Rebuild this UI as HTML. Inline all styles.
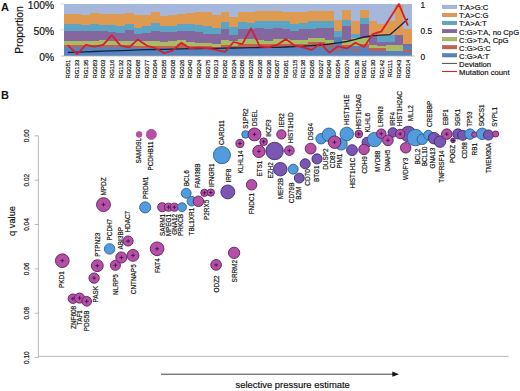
<!DOCTYPE html>
<html><head><meta charset="utf-8"><title>Figure</title>
<style>html,body{margin:0;padding:0;background:#fff;}body{width:520px;height:391px;overflow:hidden;font-family:"Liberation Sans", sans-serif;}svg{display:block;}</style>
</head><body>
<svg width="520" height="391" viewBox="0 0 520 391" font-family='"Liberation Sans", sans-serif'>
<rect width="520" height="391" fill="#fff"/>
<g shape-rendering="crispEdges">
<rect x="64.0" y="4.0" width="348.0" height="51.7" fill="#A5B8DB"/>
<polygon points="64.0,13.5 72.7,13.5 72.7,14.2 81.4,14.2 81.4,14.6 90.1,14.6 90.1,12.7 98.8,12.7 98.8,13.5 107.5,13.5 107.5,14.2 116.2,14.2 116.2,13.5 124.9,13.5 124.9,12.7 133.6,12.7 133.6,15.2 142.3,15.2 142.3,14.9 151.0,14.9 151.0,12.3 159.7,12.3 159.7,15.6 168.4,15.6 168.4,15.2 177.1,15.2 177.1,13.5 185.8,13.5 185.8,12.7 194.5,12.7 194.5,12.0 203.2,12.0 203.2,12.0 211.9,12.0 211.9,15.2 220.6,15.2 220.6,12.0 229.3,12.0 229.3,17.0 238.0,17.0 238.0,12.0 246.7,12.0 246.7,12.3 255.4,12.3 255.4,10.9 264.1,10.9 264.1,11.3 272.8,11.3 272.8,10.9 281.5,10.9 281.5,12.0 290.2,12.0 290.2,12.0 298.9,12.0 298.9,12.3 307.6,12.3 307.6,10.9 316.3,10.9 316.3,11.3 325.0,11.3 325.0,10.6 333.7,10.6 333.7,19.5 342.4,19.5 342.4,10.2 351.1,10.2 351.1,20.7 359.8,20.7 359.8,10.2 368.5,10.2 368.5,20.6 377.2,20.6 377.2,23.5 385.9,23.5 385.9,20.9 394.6,20.9 394.6,5.2 403.3,5.2 403.3,29.0 412.0,29.0 412.0,55.7 64.0,55.7" fill="#DD9A50"/>
<polygon points="64.0,23.5 72.7,23.5 72.7,23.8 81.4,23.8 81.4,24.6 90.1,24.6 90.1,24.2 98.8,24.2 98.8,24.9 107.5,24.9 107.5,24.9 116.2,24.9 116.2,25.6 124.9,25.6 124.9,23.5 133.6,23.5 133.6,27.8 142.3,27.8 142.3,25.6 151.0,25.6 151.0,22.8 159.7,22.8 159.7,25.6 168.4,25.6 168.4,25.6 177.1,25.6 177.1,24.2 185.8,24.2 185.8,24.2 194.5,24.2 194.5,24.9 203.2,24.9 203.2,25.6 211.9,25.6 211.9,27.8 220.6,27.8 220.6,22.1 229.3,22.1 229.3,27.1 238.0,27.1 238.0,22.1 246.7,22.1 246.7,22.8 255.4,22.8 255.4,20.6 264.1,20.6 264.1,21.3 272.8,21.3 272.8,21.3 281.5,21.3 281.5,21.3 290.2,21.3 290.2,24.2 298.9,24.2 298.9,22.8 307.6,22.8 307.6,20.6 316.3,20.6 316.3,20.6 325.0,20.6 325.0,20.6 333.7,20.6 333.7,30.5 342.4,30.5 342.4,20.3 351.1,20.3 351.1,34.0 359.8,34.0 359.8,18.3 368.5,18.3 368.5,35.7 377.2,35.7 377.2,35.7 385.9,35.7 385.9,35.2 394.6,35.2 394.6,35.2 403.3,35.2 403.3,44.0 412.0,44.0 412.0,55.7 64.0,55.7" fill="#5CA4C4"/>
<polygon points="64.0,30.7 72.7,30.7 72.7,30.7 81.4,30.7 81.4,31.4 90.1,31.4 90.1,31.4 98.8,31.4 98.8,30.7 107.5,30.7 107.5,32.1 116.2,32.1 116.2,32.8 124.9,32.8 124.9,29.9 133.6,29.9 133.6,33.5 142.3,33.5 142.3,32.8 151.0,32.8 151.0,30.7 159.7,30.7 159.7,32.1 168.4,32.1 168.4,32.4 177.1,32.4 177.1,31.4 185.8,31.4 185.8,31.4 194.5,31.4 194.5,32.1 203.2,32.1 203.2,34.2 211.9,34.2 211.9,34.2 220.6,34.2 220.6,29.2 229.3,29.2 229.3,35.0 238.0,35.0 238.0,28.5 246.7,28.5 246.7,28.5 255.4,28.5 255.4,27.8 264.1,27.8 264.1,28.5 272.8,28.5 272.8,27.8 281.5,27.8 281.5,28.5 290.2,28.5 290.2,30.7 298.9,30.7 298.9,29.2 307.6,29.2 307.6,28.5 316.3,28.5 316.3,27.8 325.0,27.8 325.0,27.8 333.7,27.8 333.7,36.9 342.4,36.9 342.4,26.1 351.1,26.1 351.1,37.7 359.8,37.7 359.8,23.7 368.5,23.7 368.5,35.7 377.2,35.7 377.2,42.3 385.9,42.3 385.9,42.0 394.6,42.0 394.6,35.2 403.3,35.2 403.3,44.0 412.0,44.0 412.0,55.7 64.0,55.7" fill="#84679F"/>
<polygon points="64.0,40.7 72.7,40.7 72.7,41.4 81.4,41.4 81.4,41.4 90.1,41.4 90.1,41.0 98.8,41.0 98.8,40.4 107.5,40.4 107.5,40.7 116.2,40.7 116.2,41.4 124.9,41.4 124.9,40.7 133.6,40.7 133.6,41.4 142.3,41.4 142.3,40.7 151.0,40.7 151.0,40.7 159.7,40.7 159.7,42.1 168.4,42.1 168.4,41.4 177.1,41.4 177.1,39.5 185.8,39.5 185.8,42.1 194.5,42.1 194.5,42.8 203.2,42.8 203.2,42.8 211.9,42.8 211.9,44.3 220.6,44.3 220.6,40.0 229.3,40.0 229.3,41.4 238.0,41.4 238.0,39.2 246.7,39.2 246.7,38.5 255.4,38.5 255.4,40.0 264.1,40.0 264.1,40.7 272.8,40.7 272.8,38.5 281.5,38.5 281.5,39.2 290.2,39.2 290.2,40.0 298.9,40.0 298.9,40.0 307.6,40.0 307.6,37.8 316.3,37.8 316.3,37.5 325.0,37.5 325.0,39.5 333.7,39.5 333.7,36.9 342.4,36.9 342.4,40.4 351.1,40.4 351.1,37.7 359.8,37.7 359.8,37.5 368.5,37.5 368.5,45.2 377.2,45.2 377.2,45.8 385.9,45.8 385.9,45.2 394.6,45.2 394.6,45.2 403.3,45.2 403.3,46.3 412.0,46.3 412.0,55.7 64.0,55.7" fill="#AABA62"/>
<polygon points="64.0,45.0 72.7,45.0 72.7,45.0 81.4,45.0 81.4,45.0 90.1,45.0 90.1,45.0 98.8,45.0 98.8,45.0 107.5,45.0 107.5,45.0 116.2,45.0 116.2,45.0 124.9,45.0 124.9,45.0 133.6,45.0 133.6,45.7 142.3,45.7 142.3,45.7 151.0,45.7 151.0,45.7 159.7,45.7 159.7,45.7 168.4,45.7 168.4,45.7 177.1,45.7 177.1,44.3 185.8,44.3 185.8,45.7 194.5,45.7 194.5,45.7 203.2,45.7 203.2,46.4 211.9,46.4 211.9,47.1 220.6,47.1 220.6,45.0 229.3,45.0 229.3,45.7 238.0,45.7 238.0,44.3 246.7,44.3 246.7,43.5 255.4,43.5 255.4,44.3 264.1,44.3 264.1,44.3 272.8,44.3 272.8,43.5 281.5,43.5 281.5,43.5 290.2,43.5 290.2,43.5 298.9,43.5 298.9,43.5 307.6,43.5 307.6,42.1 316.3,42.1 316.3,42.1 325.0,42.1 325.0,43.5 333.7,43.5 333.7,36.9 342.4,36.9 342.4,44.8 351.1,44.8 351.1,46.0 359.8,46.0 359.8,43.6 368.5,43.6 368.5,48.1 377.2,48.1 377.2,48.3 385.9,48.3 385.9,51.0 394.6,51.0 394.6,51.0 403.3,51.0 403.3,46.3 412.0,46.3 412.0,55.7 64.0,55.7" fill="#C4604F"/>
<polygon points="64.0,47.1 72.7,47.1 72.7,47.1 81.4,47.1 81.4,47.1 90.1,47.1 90.1,47.1 98.8,47.1 98.8,47.1 107.5,47.1 107.5,47.1 116.2,47.1 116.2,47.1 124.9,47.1 124.9,47.1 133.6,47.1 133.6,47.8 142.3,47.8 142.3,47.8 151.0,47.8 151.0,47.8 159.7,47.8 159.7,47.8 168.4,47.8 168.4,47.8 177.1,47.8 177.1,47.8 185.8,47.8 185.8,47.8 194.5,47.8 194.5,47.8 203.2,47.8 203.2,48.6 211.9,48.6 211.9,48.6 220.6,48.6 220.6,48.2 229.3,48.2 229.3,48.2 238.0,48.2 238.0,47.8 246.7,47.8 246.7,47.8 255.4,47.8 255.4,47.8 264.1,47.8 264.1,47.8 272.8,47.8 272.8,47.1 281.5,47.1 281.5,47.1 290.2,47.1 290.2,47.1 298.9,47.1 298.9,47.1 307.6,47.1 307.6,47.1 316.3,47.1 316.3,47.1 325.0,47.1 325.0,47.1 333.7,47.1 333.7,36.9 342.4,36.9 342.4,47.5 351.1,47.5 351.1,46.0 359.8,46.0 359.8,47.2 368.5,47.2 368.5,51.0 377.2,51.0 377.2,51.0 385.9,51.0 385.9,51.0 394.6,51.0 394.6,51.0 403.3,51.0 403.3,46.3 412.0,46.3 412.0,55.7 64.0,55.7" fill="#5683BD"/>
<rect x="333.7" y="49.2" width="8.7" height="1.4" fill="#C4604F"/>
<rect x="351.1" y="49" width="8.7" height="2.4" fill="#C4604F"/>
<rect x="403.3" y="49.8" width="8.7" height="2.0" fill="#C4604F"/>
</g>
<line x1="61.0" y1="56.0" x2="415.0" y2="56.0" stroke="#b0b0b0" stroke-width="0.8"/>
<line x1="60.5" y1="3.9" x2="64.0" y2="3.9" stroke="#c4c4c4" stroke-width="0.7"/>
<line x1="60.5" y1="29.8" x2="64.0" y2="29.8" stroke="#c4c4c4" stroke-width="0.7"/>
<polyline points="68.3,52.3 77.0,52.1 85.8,51.8 94.4,51.5 103.2,51.2 111.8,50.9 120.5,50.6 129.2,50.3 137.9,49.9 146.6,49.7 155.3,49.5 164.1,49.3 172.8,49.1 181.4,48.9 190.1,48.7 198.8,48.5 207.5,48.4 216.2,48.3 224.9,48.1 233.6,48.0 242.3,47.8 251.0,47.7 259.8,47.5 268.4,47.4 277.1,47.3 285.9,47.0 294.5,46.6 303.2,46.2 311.9,45.6 320.6,45.0 329.3,44.0 338.0,42.8 346.8,41.5 355.4,39.4 364.1,37.0 372.8,35.6 381.5,35.1 390.2,34.6 398.9,27.0 407.6,19.1" fill="none" stroke="#1a2038" stroke-width="1.3" stroke-linejoin="round" stroke-linecap="round"/>
<polyline points="68.3,45.6 77.0,54.1 85.8,44.9 94.4,46.6 103.2,44.9 111.8,35.1 120.5,45.6 129.2,47.4 137.9,39.4 146.6,45.6 155.3,48.0 164.1,53.1 172.8,50.6 181.4,42.7 190.1,48.4 198.8,47.7 207.5,48.4 216.2,49.9 224.9,52.0 233.6,42.0 242.3,44.1 251.0,28.4 259.8,46.3 268.4,47.4 277.1,44.9 285.9,38.9 294.5,45.6 303.2,47.4 311.9,49.9 320.6,43.4 329.3,52.7 338.0,46.3 346.8,48.4 355.4,42.7 364.1,47.0 372.8,34.1 381.5,31.3 390.2,17.7 398.9,4.1 407.6,24.9" fill="none" stroke="#d4202c" stroke-width="1.8" stroke-linejoin="round" stroke-linecap="round"/>
<text x="54.2" y="9.0" font-size="10.3" text-anchor="end" fill="#111" stroke="#111" stroke-width="0.18">100%</text>
<text x="54.2" y="34.8" font-size="10.3" text-anchor="end" fill="#111" stroke="#111" stroke-width="0.18">50%</text>
<text x="54.2" y="61.0" font-size="10.3" text-anchor="end" fill="#111" stroke="#111" stroke-width="0.18">0%</text>
<text transform="translate(23.3,30) rotate(-90)" font-size="10.3" text-anchor="middle" fill="#111" stroke="#111" stroke-width="0.18">Proportion</text>
<text x="1" y="11" font-size="11" font-weight="bold" fill="#111">A</text>
<text x="1" y="99" font-size="11" font-weight="bold" fill="#111">B</text>
<text x="420.6" y="7.8" font-size="8.3" fill="#111" stroke="#111" stroke-width="0.18">1</text>
<text x="420.6" y="33.8" font-size="8.3" fill="#111" stroke="#111" stroke-width="0.18">0.5</text>
<text x="420.6" y="59.6" font-size="8.3" fill="#111" stroke="#111" stroke-width="0.18">0</text>
<text transform="translate(70.4,59.8) rotate(-90)" font-size="5.9" text-anchor="end" fill="#111" stroke="#111" stroke-width="0.18">RG051</text>
<text transform="translate(79.1,59.8) rotate(-90)" font-size="5.9" text-anchor="end" fill="#111" stroke="#111" stroke-width="0.18">RG133</text>
<text transform="translate(87.8,59.8) rotate(-90)" font-size="5.9" text-anchor="end" fill="#111" stroke="#111" stroke-width="0.18">RG135</text>
<text transform="translate(96.5,59.8) rotate(-90)" font-size="5.9" text-anchor="end" fill="#111" stroke="#111" stroke-width="0.18">RG083</text>
<text transform="translate(105.2,59.8) rotate(-90)" font-size="5.9" text-anchor="end" fill="#111" stroke="#111" stroke-width="0.18">RG003</text>
<text transform="translate(113.9,59.8) rotate(-90)" font-size="5.9" text-anchor="end" fill="#111" stroke="#111" stroke-width="0.18">RG116</text>
<text transform="translate(122.6,59.8) rotate(-90)" font-size="5.9" text-anchor="end" fill="#111" stroke="#111" stroke-width="0.18">RG132</text>
<text transform="translate(131.3,59.8) rotate(-90)" font-size="5.9" text-anchor="end" fill="#111" stroke="#111" stroke-width="0.18">RG023</text>
<text transform="translate(140.0,59.8) rotate(-90)" font-size="5.9" text-anchor="end" fill="#111" stroke="#111" stroke-width="0.18">RG068</text>
<text transform="translate(148.7,59.8) rotate(-90)" font-size="5.9" text-anchor="end" fill="#111" stroke="#111" stroke-width="0.18">RG077</text>
<text transform="translate(157.4,59.8) rotate(-90)" font-size="5.9" text-anchor="end" fill="#111" stroke="#111" stroke-width="0.18">RG064</text>
<text transform="translate(166.2,59.8) rotate(-90)" font-size="5.9" text-anchor="end" fill="#111" stroke="#111" stroke-width="0.18">RG055</text>
<text transform="translate(174.8,59.8) rotate(-90)" font-size="5.9" text-anchor="end" fill="#111" stroke="#111" stroke-width="0.18">RG008</text>
<text transform="translate(183.5,59.8) rotate(-90)" font-size="5.9" text-anchor="end" fill="#111" stroke="#111" stroke-width="0.18">RG026</text>
<text transform="translate(192.2,59.8) rotate(-90)" font-size="5.9" text-anchor="end" fill="#111" stroke="#111" stroke-width="0.18">RG040</text>
<text transform="translate(200.9,59.8) rotate(-90)" font-size="5.9" text-anchor="end" fill="#111" stroke="#111" stroke-width="0.18">RG024</text>
<text transform="translate(209.6,59.8) rotate(-90)" font-size="5.9" text-anchor="end" fill="#111" stroke="#111" stroke-width="0.18">RG075</text>
<text transform="translate(218.3,59.8) rotate(-90)" font-size="5.9" text-anchor="end" fill="#111" stroke="#111" stroke-width="0.18">RG013</text>
<text transform="translate(227.0,59.8) rotate(-90)" font-size="5.9" text-anchor="end" fill="#111" stroke="#111" stroke-width="0.18">RG082</text>
<text transform="translate(235.7,59.8) rotate(-90)" font-size="5.9" text-anchor="end" fill="#111" stroke="#111" stroke-width="0.18">RG034</text>
<text transform="translate(244.4,59.8) rotate(-90)" font-size="5.9" text-anchor="end" fill="#111" stroke="#111" stroke-width="0.18">RG086</text>
<text transform="translate(253.1,59.8) rotate(-90)" font-size="5.9" text-anchor="end" fill="#111" stroke="#111" stroke-width="0.18">RG028</text>
<text transform="translate(261.9,59.8) rotate(-90)" font-size="5.9" text-anchor="end" fill="#111" stroke="#111" stroke-width="0.18">RG038</text>
<text transform="translate(270.6,59.8) rotate(-90)" font-size="5.9" text-anchor="end" fill="#111" stroke="#111" stroke-width="0.18">RG036</text>
<text transform="translate(279.2,59.8) rotate(-90)" font-size="5.9" text-anchor="end" fill="#111" stroke="#111" stroke-width="0.18">RG067</text>
<text transform="translate(288.0,59.8) rotate(-90)" font-size="5.9" text-anchor="end" fill="#111" stroke="#111" stroke-width="0.18">RG081</text>
<text transform="translate(296.6,59.8) rotate(-90)" font-size="5.9" text-anchor="end" fill="#111" stroke="#111" stroke-width="0.18">RG115</text>
<text transform="translate(305.4,59.8) rotate(-90)" font-size="5.9" text-anchor="end" fill="#111" stroke="#111" stroke-width="0.18">RG138</text>
<text transform="translate(314.1,59.8) rotate(-90)" font-size="5.9" text-anchor="end" fill="#111" stroke="#111" stroke-width="0.18">RG065</text>
<text transform="translate(322.8,59.8) rotate(-90)" font-size="5.9" text-anchor="end" fill="#111" stroke="#111" stroke-width="0.18">RG027</text>
<text transform="translate(331.4,59.8) rotate(-90)" font-size="5.9" text-anchor="end" fill="#111" stroke="#111" stroke-width="0.18">RG049</text>
<text transform="translate(340.1,59.8) rotate(-90)" font-size="5.9" text-anchor="end" fill="#111" stroke="#111" stroke-width="0.18">RG054</text>
<text transform="translate(348.9,59.8) rotate(-90)" font-size="5.9" text-anchor="end" fill="#111" stroke="#111" stroke-width="0.18">RG074</text>
<text transform="translate(359.4,59.8) rotate(-90)" font-size="5.9" text-anchor="end" fill="#111" stroke="#111" stroke-width="0.18">RG136</text>
<text transform="translate(366.2,59.8) rotate(-90)" font-size="5.9" text-anchor="end" fill="#111" stroke="#111" stroke-width="0.18">RG061</text>
<text transform="translate(374.9,59.8) rotate(-90)" font-size="5.9" text-anchor="end" fill="#111" stroke="#111" stroke-width="0.18">RG130</text>
<text transform="translate(383.6,59.8) rotate(-90)" font-size="5.9" text-anchor="end" fill="#111" stroke="#111" stroke-width="0.18">RG142</text>
<text transform="translate(392.4,59.8) rotate(-90)" font-size="5.9" text-anchor="end" fill="#111" stroke="#111" stroke-width="0.18">RG111</text>
<text transform="translate(401.1,59.8) rotate(-90)" font-size="5.9" text-anchor="end" fill="#111" stroke="#111" stroke-width="0.18">RG043</text>
<text transform="translate(409.8,59.8) rotate(-90)" font-size="5.9" text-anchor="end" fill="#111" stroke="#111" stroke-width="0.18">RG014</text>
<rect x="442.5" y="5.2" width="14.3" height="3.4" fill="#A5B8DB" stroke="#8796b3" stroke-width="0.5"/>
<text x="459.1" y="10.2" font-size="7.7" fill="#111" stroke="#111" stroke-width="0.18">T:A&gt;G:C</text>
<rect x="442.5" y="13.3" width="14.3" height="3.4" fill="#DD9A50" stroke="#b57e41" stroke-width="0.5"/>
<text x="459.1" y="18.3" font-size="7.7" fill="#111" stroke="#111" stroke-width="0.18">T:A&gt;C:G</text>
<rect x="442.5" y="21.3" width="14.3" height="3.4" fill="#5CA4C4" stroke="#4b86a0" stroke-width="0.5"/>
<text x="459.1" y="26.4" font-size="7.7" fill="#111" stroke="#111" stroke-width="0.18">T:A&gt;A:T</text>
<rect x="442.5" y="29.4" width="14.3" height="3.4" fill="#84679F" stroke="#6c5482" stroke-width="0.5"/>
<text x="459.1" y="34.5" font-size="7.7" fill="#111" stroke="#111" stroke-width="0.18">C:G&gt;T:A, no CpG</text>
<rect x="442.5" y="37.5" width="14.3" height="3.4" fill="#AABA62" stroke="#8b9850" stroke-width="0.5"/>
<text x="459.1" y="42.5" font-size="7.7" fill="#111" stroke="#111" stroke-width="0.18">C:G&gt;T:A, CpG</text>
<rect x="442.5" y="45.5" width="14.3" height="3.4" fill="#C4604F" stroke="#a04e40" stroke-width="0.5"/>
<text x="459.1" y="50.6" font-size="7.7" fill="#111" stroke="#111" stroke-width="0.18">C:G&gt;G:C</text>
<rect x="442.5" y="53.6" width="14.3" height="3.4" fill="#5683BD" stroke="#466b9a" stroke-width="0.5"/>
<text x="459.1" y="58.7" font-size="7.7" fill="#111" stroke="#111" stroke-width="0.18">C:G&gt;A:T</text>
<line x1="442" y1="63.4" x2="457" y2="63.4" stroke="#3a3038" stroke-width="0.9"/>
<text x="459.1" y="66.7" font-size="7.7" fill="#111" stroke="#111" stroke-width="0.18">Deviation</text>
<line x1="442" y1="71.5" x2="457" y2="71.5" stroke="#d6202c" stroke-width="1.1"/>
<text x="459.1" y="74.8" font-size="7.7" fill="#111" stroke="#111" stroke-width="0.18">Mutation count</text>
<g stroke="#969696" stroke-width="0.65" fill="none">
<line x1="38.4" y1="135.8" x2="38.4" y2="357.6"/>
<line x1="34.6" y1="135.8" x2="38.4" y2="135.8"/>
<line x1="34.6" y1="180.2" x2="38.4" y2="180.2"/>
<line x1="34.6" y1="224.5" x2="38.4" y2="224.5"/>
<line x1="34.6" y1="268.9" x2="38.4" y2="268.9"/>
<line x1="34.6" y1="313.2" x2="38.4" y2="313.2"/>
<line x1="34.6" y1="357.6" x2="38.4" y2="357.6"/>
<line x1="38.4" y1="356.4" x2="508.7" y2="356.4"/>
</g>
<text transform="translate(28.6,135.8) rotate(-90)" font-size="6.5" text-anchor="middle" fill="#111" stroke="#111" stroke-width="0.18">0.00</text>
<text transform="translate(28.6,180.2) rotate(-90)" font-size="6.5" text-anchor="middle" fill="#111" stroke="#111" stroke-width="0.18">0.02</text>
<text transform="translate(28.6,224.5) rotate(-90)" font-size="6.5" text-anchor="middle" fill="#111" stroke="#111" stroke-width="0.18">0.04</text>
<text transform="translate(28.6,268.9) rotate(-90)" font-size="6.5" text-anchor="middle" fill="#111" stroke="#111" stroke-width="0.18">0.06</text>
<text transform="translate(28.6,313.2) rotate(-90)" font-size="6.5" text-anchor="middle" fill="#111" stroke="#111" stroke-width="0.18">0.08</text>
<text transform="translate(28.6,357.6) rotate(-90)" font-size="6.5" text-anchor="middle" fill="#111" stroke="#111" stroke-width="0.18">0.10</text>
<text transform="translate(15,221) rotate(-90)" font-size="9.3" text-anchor="middle" fill="#111" stroke="#111" stroke-width="0.18">q value</text>
<line x1="161" y1="374.2" x2="394" y2="374.2" stroke="#111" stroke-width="0.8"/>
<polygon points="392.3,371.6 399,374.2 392.3,376.8" fill="#111"/>
<text x="292.7" y="388" font-size="9.45" text-anchor="middle" fill="#111" stroke="#111" stroke-width="0.18">selective pressure estimate</text>
<g>
<circle cx="62.3" cy="260.7" r="6.85" fill="#B650A5" stroke="#5a2060" stroke-width="0.9"/>
<path d="M60.4 260.7H64.2M62.3 258.8V262.6" stroke="#3a0e55" stroke-width="0.85" fill="none"/>
<circle cx="72.9" cy="298.7" r="4.75" fill="#B650A5" stroke="#5a2060" stroke-width="0.9"/>
<path d="M71.0 298.7H74.8M72.9 296.8V300.6" stroke="#3a0e55" stroke-width="0.85" fill="none"/>
<circle cx="79.6" cy="298.1" r="5.05" fill="#B650A5" stroke="#5a2060" stroke-width="0.9"/>
<path d="M77.7 298.1H81.5M79.6 296.2V300.0" stroke="#3a0e55" stroke-width="0.85" fill="none"/>
<circle cx="86.7" cy="301.3" r="4.85" fill="#B650A5" stroke="#5a2060" stroke-width="0.9"/>
<path d="M84.8 301.3H88.6M86.7 299.4V303.2" stroke="#3a0e55" stroke-width="0.85" fill="none"/>
<circle cx="94.1" cy="278.1" r="5.15" fill="#B650A5" stroke="#5a2060" stroke-width="0.9"/>
<path d="M92.2 278.1H96.0M94.1 276.2V280.0" stroke="#3a0e55" stroke-width="0.85" fill="none"/>
<circle cx="97.3" cy="265.7" r="5.95" fill="#B650A5" stroke="#5a2060" stroke-width="0.9"/>
<path d="M95.4 265.7H99.2M97.3 263.8V267.6" stroke="#3a0e55" stroke-width="0.85" fill="none"/>
<circle cx="103.5" cy="204.6" r="6.95" fill="#B650A5" stroke="#5a2060" stroke-width="0.9"/>
<path d="M101.6 204.6H105.4M103.5 202.7V206.5" stroke="#3a0e55" stroke-width="0.85" fill="none"/>
<circle cx="109.6" cy="248.9" r="5.25" fill="#529BDD" stroke="#2c6196" stroke-width="0.9"/>
<circle cx="115.4" cy="265.3" r="5.05" fill="#B650A5" stroke="#5a2060" stroke-width="0.9"/>
<path d="M113.5 265.3H117.3M115.4 263.4V267.2" stroke="#3a0e55" stroke-width="0.85" fill="none"/>
<circle cx="121.3" cy="257.5" r="5.55" fill="#B650A5" stroke="#5a2060" stroke-width="0.9"/>
<path d="M119.4 257.5H123.2M121.3 255.6V259.4" stroke="#3a0e55" stroke-width="0.85" fill="none"/>
<circle cx="128.1" cy="241.0" r="5.05" fill="#B650A5" stroke="#5a2060" stroke-width="0.9"/>
<path d="M126.2 241.0H130.0M128.1 239.1V242.9" stroke="#3a0e55" stroke-width="0.85" fill="none"/>
<circle cx="133" cy="255.4" r="5.95" fill="#B650A5" stroke="#5a2060" stroke-width="0.9"/>
<path d="M131.1 255.4H134.9M133 253.5V257.3" stroke="#3a0e55" stroke-width="0.85" fill="none"/>
<circle cx="139.1" cy="134.4" r="2.85" fill="#B650A5" stroke="#B650A5" stroke-width="0.9"/>
<circle cx="145.2" cy="207.4" r="5.55" fill="#529BDD" stroke="#2c6196" stroke-width="0.9"/>
<circle cx="151.3" cy="134.4" r="5.05" fill="#B650A5" stroke="#B650A5" stroke-width="0.9"/>
<circle cx="157.1" cy="248.8" r="6.85" fill="#B650A5" stroke="#5a2060" stroke-width="0.9"/>
<path d="M155.2 248.8H159.0M157.1 246.9V250.7" stroke="#3a0e55" stroke-width="0.85" fill="none"/>
<circle cx="162.2" cy="207.2" r="4.55" fill="#B650A5" stroke="#5a2060" stroke-width="0.9"/>
<circle cx="168.5" cy="207.2" r="4.05" fill="#B650A5" stroke="#5a2060" stroke-width="0.9"/>
<path d="M166.6 207.2H170.4M168.5 205.3V209.1" stroke="#3a0e55" stroke-width="0.85" fill="none"/>
<circle cx="174.4" cy="207.2" r="4.05" fill="#B650A5" stroke="#5a2060" stroke-width="0.9"/>
<path d="M172.5 207.2H176.3M174.4 205.3V209.1" stroke="#3a0e55" stroke-width="0.85" fill="none"/>
<circle cx="182.0" cy="207.2" r="4.45" fill="#529BDD" stroke="#2c6196" stroke-width="0.9"/>
<circle cx="186.2" cy="193.3" r="4.95" fill="#529BDD" stroke="#2c6196" stroke-width="0.9"/>
<circle cx="191.8" cy="201.2" r="4.75" fill="#529BDD" stroke="#2c6196" stroke-width="0.9"/>
<circle cx="198.4" cy="201.3" r="5.25" fill="#B650A5" stroke="#5a2060" stroke-width="0.9"/>
<circle cx="204.4" cy="192.8" r="3.65" fill="#B650A5" stroke="#5a2060" stroke-width="0.9"/>
<path d="M202.5 192.8H206.3M204.4 190.9V194.7" stroke="#3a0e55" stroke-width="0.85" fill="none"/>
<circle cx="210.8" cy="192.6" r="3.65" fill="#B650A5" stroke="#5a2060" stroke-width="0.9"/>
<path d="M208.9 192.6H212.7M210.8 190.7V194.5" stroke="#3a0e55" stroke-width="0.85" fill="none"/>
<circle cx="216.1" cy="264.9" r="5.35" fill="#B650A5" stroke="#5a2060" stroke-width="0.9"/>
<path d="M214.2 264.9H218.0M216.1 263.0V266.8" stroke="#3a0e55" stroke-width="0.85" fill="none"/>
<circle cx="221.9" cy="155.1" r="8.55" fill="#529BDD" stroke="#2c6196" stroke-width="0.9"/>
<circle cx="227.8" cy="191.9" r="6.95" fill="#7A57B0" stroke="#3f2a78" stroke-width="0.9"/>
<circle cx="234.1" cy="252.8" r="5.65" fill="#B650A5" stroke="#5a2060" stroke-width="0.9"/>
<circle cx="239.9" cy="143.5" r="4.05" fill="#B650A5" stroke="#5a2060" stroke-width="0.9"/>
<path d="M238.0 143.5H241.8M239.9 141.6V145.4" stroke="#3a0e55" stroke-width="0.85" fill="none"/>
<circle cx="245.5" cy="134.4" r="3.75" fill="#529BDD" stroke="#2c6196" stroke-width="0.9"/>
<circle cx="251.6" cy="184.8" r="5.25" fill="#B650A5" stroke="#5a2060" stroke-width="0.9"/>
<circle cx="254.5" cy="134.4" r="6.45" fill="#B650A5" stroke="#5a2060" stroke-width="0.9"/>
<path d="M252.6 134.4H256.4M254.5 132.5V136.3" stroke="#3a0e55" stroke-width="0.85" fill="none"/>
<circle cx="258.9" cy="151.4" r="6.15" fill="#B650A5" stroke="#5a2060" stroke-width="0.9"/>
<path d="M257.0 151.4H260.8M258.9 149.5V153.3" stroke="#3a0e55" stroke-width="0.85" fill="none"/>
<circle cx="263.6" cy="141.7" r="3.85" fill="#B650A5" stroke="#5a2060" stroke-width="0.9"/>
<path d="M261.7 141.7H265.5M263.6 139.8V143.6" stroke="#3a0e55" stroke-width="0.85" fill="none"/>
<circle cx="274.6" cy="151.0" r="8.75" fill="#7A57B0" stroke="#3f2a78" stroke-width="0.9"/>
<circle cx="280.3" cy="169.2" r="6.75" fill="#7A57B0" stroke="#3f2a78" stroke-width="0.9"/>
<circle cx="281.4" cy="134.4" r="4.65" fill="#B650A5" stroke="#5a2060" stroke-width="0.9"/>
<circle cx="289.4" cy="150.6" r="4.85" fill="#B650A5" stroke="#5a2060" stroke-width="0.9"/>
<path d="M287.5 150.6H291.3M289.4 148.7V152.5" stroke="#3a0e55" stroke-width="0.85" fill="none"/>
<circle cx="293.2" cy="169.2" r="4.95" fill="#529BDD" stroke="#2c6196" stroke-width="0.9"/>
<circle cx="299.3" cy="178.1" r="4.95" fill="#7A57B0" stroke="#3f2a78" stroke-width="0.9"/>
<circle cx="305.2" cy="163.8" r="5.05" fill="#7A57B0" stroke="#3f2a78" stroke-width="0.9"/>
<circle cx="310.6" cy="148.6" r="5.45" fill="#B650A5" stroke="#5a2060" stroke-width="0.9"/>
<circle cx="317.0" cy="158.9" r="5.05" fill="#7A57B0" stroke="#3f2a78" stroke-width="0.9"/>
<circle cx="321.1" cy="138.7" r="5.25" fill="#529BDD" stroke="#2c6196" stroke-width="0.9"/>
<circle cx="328.9" cy="134.8" r="6.75" fill="#529BDD" stroke="#2c6196" stroke-width="0.9"/>
<circle cx="341.2" cy="144.0" r="6.05" fill="#529BDD" stroke="#2c6196" stroke-width="0.9"/>
<circle cx="334.6" cy="142.2" r="6.25" fill="#B650A5" stroke="#5a2060" stroke-width="0.9"/>
<path d="M332.7 142.2H336.5M334.6 140.3V144.1" stroke="#3a0e55" stroke-width="0.85" fill="none"/>
<circle cx="346.8" cy="133.9" r="6.75" fill="#529BDD" stroke="#2c6196" stroke-width="0.9"/>
<circle cx="352.0" cy="150.1" r="5.45" fill="#7A57B0" stroke="#3f2a78" stroke-width="0.9"/>
<circle cx="358.8" cy="134" r="3.85" fill="#B650A5" stroke="#5a2060" stroke-width="0.9"/>
<path d="M356.9 134H360.7M358.8 132.1V135.9" stroke="#3a0e55" stroke-width="0.85" fill="none"/>
<circle cx="367.0" cy="142.3" r="4.95" fill="#7A57B0" stroke="#3f2a78" stroke-width="0.9"/>
<circle cx="364.0" cy="149.4" r="5.25" fill="#B650A5" stroke="#5a2060" stroke-width="0.9"/>
<circle cx="374.5" cy="139.6" r="7.15" fill="#529BDD" stroke="#2c6196" stroke-width="0.9"/>
<circle cx="381.3" cy="133.7" r="4.75" fill="#B650A5" stroke="#5a2060" stroke-width="0.9"/>
<path d="M379.4 133.7H383.2M381.3 131.8V135.6" stroke="#3a0e55" stroke-width="0.85" fill="none"/>
<circle cx="392.8" cy="132.4" r="4.75" fill="#7A57B0" stroke="#3f2a78" stroke-width="0.9"/>
<circle cx="387.9" cy="140.3" r="5.35" fill="#B650A5" stroke="#5a2060" stroke-width="0.9"/>
<path d="M386.0 140.3H389.8M387.9 138.4V142.2" stroke="#3a0e55" stroke-width="0.85" fill="none"/>
<circle cx="408.4" cy="134.1" r="7.75" fill="#7A57B0" stroke="#3f2a78" stroke-width="0.9"/>
<circle cx="400.2" cy="134.0" r="4.75" fill="#B650A5" stroke="#5a2060" stroke-width="0.9"/>
<path d="M398.3 134.0H402.1M400.2 132.1V135.9" stroke="#3a0e55" stroke-width="0.85" fill="none"/>
<circle cx="405.7" cy="147.8" r="5.25" fill="#B650A5" stroke="#5a2060" stroke-width="0.9"/>
<circle cx="415.4" cy="137.6" r="8.25" fill="#529BDD" stroke="#2c6196" stroke-width="0.9"/>
<circle cx="422.3" cy="139.3" r="5.25" fill="#529BDD" stroke="#2c6196" stroke-width="0.9"/>
<circle cx="428.4" cy="135" r="4.75" fill="#529BDD" stroke="#2c6196" stroke-width="0.9"/>
<circle cx="434" cy="138.2" r="5.75" fill="#7A57B0" stroke="#3f2a78" stroke-width="0.9"/>
<circle cx="440" cy="141.6" r="5.75" fill="#7A57B0" stroke="#3f2a78" stroke-width="0.9"/>
<circle cx="446.8" cy="134.1" r="5.25" fill="#B650A5" stroke="#5a2060" stroke-width="0.9"/>
<path d="M444.9 134.1H448.7M446.8 132.2V136.0" stroke="#3a0e55" stroke-width="0.85" fill="none"/>
<circle cx="453.0" cy="140.4" r="2.35" fill="#B650A5" stroke="#5a2060" stroke-width="0.9"/>
<path d="M451.1 140.4H454.9M453.0 138.5V142.3" stroke="#3a0e55" stroke-width="0.85" fill="none"/>
<circle cx="457.8" cy="133.9" r="5.05" fill="#7A57B0" stroke="#3f2a78" stroke-width="0.9"/>
<circle cx="462.7" cy="135.3" r="5.05" fill="#7A57B0" stroke="#3f2a78" stroke-width="0.9"/>
<circle cx="470.0" cy="134.1" r="5.25" fill="#529BDD" stroke="#2c6196" stroke-width="0.9"/>
<circle cx="474.4" cy="134.6" r="2.75" fill="#B650A5" stroke="#5a2060" stroke-width="0.9"/>
<circle cx="482.2" cy="133.8" r="5.75" fill="#529BDD" stroke="#2c6196" stroke-width="0.9"/>
<circle cx="488.5" cy="135" r="5.05" fill="#7A57B0" stroke="#3f2a78" stroke-width="0.9"/>
<circle cx="495.7" cy="134.0" r="3.05" fill="#B650A5" stroke="#5a2060" stroke-width="0.9"/>
</g>
<g font-size="6.4" fill="#111" stroke="#111" stroke-width="0.18">
<text transform="translate(64.1,271.2) rotate(-90)" text-anchor="end">PKD1</text>
<text transform="translate(76.3,305.9) rotate(-90)" text-anchor="end">ZNF608</text>
<text transform="translate(82.2,310.1) rotate(-90)" text-anchor="end">TAF1</text>
<text transform="translate(89.0,310.4) rotate(-90)" text-anchor="end">PDS5B</text>
<text transform="translate(97.6,286) rotate(-90)" text-anchor="end">PASK</text>
<text transform="translate(100.0,256.8) rotate(-90)" text-anchor="start">PTPN23</text>
<text transform="translate(106.0,195.5) rotate(-90)" text-anchor="start">MPDZ</text>
<text transform="translate(111.9,240.5) rotate(-90)" text-anchor="start">PCDH7</text>
<text transform="translate(117.7,274.3) rotate(-90)" text-anchor="end">NLRP5</text>
<text transform="translate(122.5,249.4) rotate(-90)" text-anchor="start">ABI3BP</text>
<text transform="translate(129.9,232.6) rotate(-90)" text-anchor="start">HDAC7</text>
<text transform="translate(136.1,264.3) rotate(-90)" text-anchor="end">CNTNAP5</text>
<text transform="translate(141.0,137.9) rotate(-90)" text-anchor="end">SAMD9L</text>
<text transform="translate(147.5,199) rotate(-90)" text-anchor="start">PRDM1</text>
<text transform="translate(152.5,141.5) rotate(-90)" text-anchor="end">PCDHB11</text>
<text transform="translate(160.3,258.3) rotate(-90)" text-anchor="end">FAT4</text>
<text transform="translate(164.9,213.9) rotate(-90)" text-anchor="end">SARM1</text>
<text transform="translate(170.5,213.9) rotate(-90)" text-anchor="end">MPEG1</text>
<text transform="translate(176.5,213.9) rotate(-90)" text-anchor="end">GNA12</text>
<text transform="translate(182.9,213.9) rotate(-90)" text-anchor="end">PRKCB</text>
<text transform="translate(188.8,186.2) rotate(-90)" text-anchor="start">BCL6</text>
<text transform="translate(194.1,207.8) rotate(-90)" text-anchor="end">TBL1XR1</text>
<text transform="translate(200.2,188) rotate(-90)" text-anchor="start">FAM38B</text>
<text transform="translate(208.9,199.8) rotate(-90)" text-anchor="end">P2RX5</text>
<text transform="translate(214.0,186.9) rotate(-90)" text-anchor="start">IFNGR1</text>
<text transform="translate(219.2,275.4) rotate(-90)" text-anchor="end">ODZ2</text>
<text transform="translate(223.8,145.0) rotate(-90)" text-anchor="start">CARD11</text>
<text transform="translate(231.1,182.6) rotate(-90)" text-anchor="start">IRF8</text>
<text transform="translate(236.8,260) rotate(-90)" text-anchor="end">SRRM2</text>
<text transform="translate(242.7,150.4) rotate(-90)" text-anchor="end">KLHL14</text>
<text transform="translate(247.8,128.7) rotate(-90)" text-anchor="start">S1PR2</text>
<text transform="translate(254.2,193) rotate(-90)" text-anchor="end">FNDC1</text>
<text transform="translate(256.8,126.3) rotate(-90)" text-anchor="start">DSEL</text>
<text transform="translate(261.5,160.6) rotate(-90)" text-anchor="end">ETS1</text>
<text transform="translate(271.0,136.8) rotate(-90)" text-anchor="start">IKZF3</text>
<text transform="translate(272.5,162.1) rotate(-90)" text-anchor="end">EZH2</text>
<text transform="translate(283.3,177.9) rotate(-90)" text-anchor="end">MEF2B</text>
<text transform="translate(283.8,127.4) rotate(-90)" text-anchor="start">IER2</text>
<text transform="translate(292.5,143.4) rotate(-90)" text-anchor="start">HIST1H1D</text>
<text transform="translate(294.2,182.6) rotate(-90)" text-anchor="end">CD79B</text>
<text transform="translate(300.8,186.6) rotate(-90)" text-anchor="end">B2M</text>
<text transform="translate(310.0,169.3) rotate(-90)" text-anchor="end">CD70</text>
<text transform="translate(312.8,140.3) rotate(-90)" text-anchor="start">DSG4</text>
<text transform="translate(319.3,165.4) rotate(-90)" text-anchor="end">BTG1</text>
<text transform="translate(327.9,148.5) rotate(-90)" text-anchor="end">DUSP2</text>
<text transform="translate(341.9,153.6) rotate(-90)" text-anchor="end">PIM1</text>
<text transform="translate(335.3,151.8) rotate(-90)" text-anchor="end">CD83</text>
<text transform="translate(349.3,125) rotate(-90)" text-anchor="start">HIST1H1E</text>
<text transform="translate(354.9,157.7) rotate(-90)" text-anchor="end">HIST1H1C</text>
<text transform="translate(361.1,129.6) rotate(-90)" text-anchor="start">HIST1H2AG</text>
<text transform="translate(369.9,132.5) rotate(-90)" text-anchor="start">KLHL6</text>
<text transform="translate(366.8,156.2) rotate(-90)" text-anchor="end">CDH9</text>
<text transform="translate(379.6,150.6) rotate(-90)" text-anchor="end">MYD88</text>
<text transform="translate(382.8,127.1) rotate(-90)" text-anchor="start">LRRN3</text>
<text transform="translate(395.3,125.8) rotate(-90)" text-anchor="start">IRF4</text>
<text transform="translate(390.2,149.7) rotate(-90)" text-anchor="end">DNAH5</text>
<text transform="translate(412.8,121.2) rotate(-90)" text-anchor="start">MLL2</text>
<text transform="translate(402.0,126.2) rotate(-90)" text-anchor="start">HIST1H2AC</text>
<text transform="translate(407.6,157.7) rotate(-90)" text-anchor="end">WDFY3</text>
<text transform="translate(420.0,148.6) rotate(-90)" text-anchor="end">BCL2</text>
<text transform="translate(426.7,146.7) rotate(-90)" text-anchor="end">BCL10</text>
<text transform="translate(431.9,127.0) rotate(-90)" text-anchor="start">CREBBP</text>
<text transform="translate(435.3,147.6) rotate(-90)" text-anchor="end">GNA13</text>
<text transform="translate(444.1,150.4) rotate(-90)" text-anchor="end">TNFRSF14</text>
<text transform="translate(448.0,125.2) rotate(-90)" text-anchor="start">EBF1</text>
<text transform="translate(455.3,144.8) rotate(-90)" text-anchor="end">POGZ</text>
<text transform="translate(460.1,126.0) rotate(-90)" text-anchor="start">SGK1</text>
<text transform="translate(466.8,142.2) rotate(-90)" text-anchor="end">CD58</text>
<text transform="translate(472.3,126.8) rotate(-90)" text-anchor="start">TP53</text>
<text transform="translate(476.7,143) rotate(-90)" text-anchor="end">RB1</text>
<text transform="translate(484.4,126.2) rotate(-90)" text-anchor="start">SOCS1</text>
<text transform="translate(490.9,142.9) rotate(-90)" text-anchor="end">TMEM30A</text>
<text transform="translate(496.9,126.8) rotate(-90)" text-anchor="start">SYPL1</text>
</g>
</svg>
</body></html>
